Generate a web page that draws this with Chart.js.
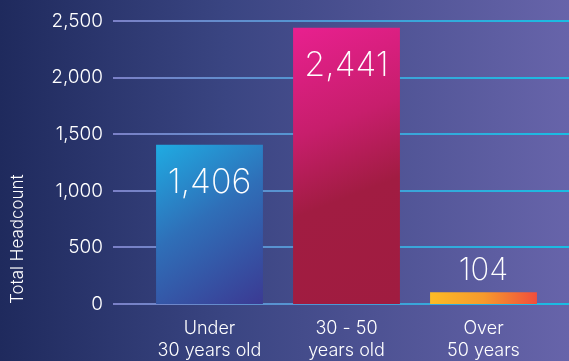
<!DOCTYPE html>
<html>
<head>
<meta charset="utf-8">
<script src="https://cdn.jsdelivr.net/npm/chart.js@4"></script>
<style>
  html, body { margin: 0; padding: 0; }
  body {
    width: 569px; height: 361px; overflow: hidden;
    background: linear-gradient(90deg, #1f2a5d 0%, #3a4582 40%, #6764aa 100%);
  }
  #wrap { position: relative; width: 569px; height: 361px; }
</style>
</head>
<body>
<div id="wrap"><canvas id="headcountChart"></canvas></div>
<script>
// --- Data ---
const ageGroups = [['Under', '30 years old'], ['30 - 50', 'years old'], ['Over', '50 years']];
const headcounts = [1406, 2441, 104];
const valueLabels = ['1,406', '2,441', '104'];

const FONT = "'Inter', 'Open Sans', sans-serif";
const BAR_PCT = 0.78;

// bar fills per category, built from the scales
function barFill(context) {
  const chart = context.chart;
  const xs = chart.scales.x, ys = chart.scales.y;
  const fallback = ['#2a7cc4', '#c51e6a', '#f7942e'][context.dataIndex];
  if (!xs || !ys || !chart.chartArea) return fallback;
  const i = context.dataIndex;
  const cx = xs.getPixelForValue(i);
  const half = (xs.width / ageGroups.length) * BAR_PCT / 2;
  const top = ys.getPixelForValue(headcounts[i]);
  const bottom = ys.getPixelForValue(0);
  if (![cx, half, top, bottom].every(Number.isFinite)) return fallback;
  const left = cx - half, right = cx + half;
  const ctx = chart.ctx;
  let g;
  if (i === 0) {
    g = ctx.createLinearGradient(left, top, right, bottom);
    g.addColorStop(0, '#1fabe2');
    g.addColorStop(0.45, '#2f6fb8');
    g.addColorStop(1, '#3b3a93');
  } else if (i === 1) {
    g = ctx.createLinearGradient(left, top, right, bottom);
    g.addColorStop(0, '#e8208f');
    g.addColorStop(0.35, '#c71e6c');
    g.addColorStop(0.6, '#a11c42');
    g.addColorStop(1, '#a01c40');
  } else {
    g = ctx.createLinearGradient(left, 0, right, 0);
    g.addColorStop(0, '#fcbb25');
    g.addColorStop(0.5, '#f79a2c');
    g.addColorStop(1, '#f04e3c');
  }
  return g;
}

// grid lines across the full width, behind the bars
const fullGrid = {
  id: 'fullGrid',
  beforeDatasetsDraw(chart) {
    const ctx = chart.ctx;
    const y = chart.scales.y;
    const g = ctx.createLinearGradient(113, 0, chart.width, 0);
    g.addColorStop(0, '#7b80c6');
    g.addColorStop(0.45, '#4f97d3');
    g.addColorStop(1, '#18bde3');
    ctx.save();
    ctx.strokeStyle = g;
    ctx.lineWidth = 2;
    y.ticks.forEach(t => {
      const py = Math.round(y.getPixelForValue(t.value));
      ctx.beginPath();
      ctx.moveTo(113, py);
      ctx.lineTo(chart.width, py);
      ctx.stroke();
    });
    ctx.restore();
  }
};

// value labels
const valueText = {
  id: 'valueText',
  afterDatasetsDraw(chart) {
    const ctx = chart.ctx;
    const meta = chart.getDatasetMeta(0);
    ctx.save();
    ctx.fillStyle = '#ffffff';
    ctx.textAlign = 'center';
    ctx.textBaseline = 'middle';
    meta.data.forEach((bar, i) => {
      if (i < 2) {
        ctx.font = '200 34px ' + FONT;
        ctx.fillText(valueLabels[i], bar.x, bar.y + 38);
      } else {
        ctx.font = '200 31px ' + FONT;
        ctx.fillText(valueLabels[i], bar.x, bar.y - 22);
      }
    });
    ctx.restore();
  }
};

new Chart(document.getElementById('headcountChart'), {
  type: 'bar',
  data: {
    labels: ageGroups,
    datasets: [{
      data: headcounts,
      backgroundColor: barFill,
      borderWidth: 0,
      barPercentage: BAR_PCT,
      categoryPercentage: 1
    }]
  },
  options: {
    responsive: true,
    maintainAspectRatio: false,
    animation: false,
    layout: { padding: { top: 21, right: 17, left: 0, bottom: 0 } },
    plugins: { legend: { display: false }, tooltip: { enabled: false } },
    scales: {
      y: {
        min: 0,
        max: 2500,
        border: { display: false },
        grid: { display: false },
        ticks: {
          stepSize: 500,
          color: '#ffffff',
          padding: 30,
          font: { family: FONT, size: 19, weight: '300' },
          callback: v => v.toLocaleString('en-US')
        },
        title: {
          display: true,
          text: 'Total Headcount',
          align: 'start',
          color: '#ffffff',
          font: { family: FONT, size: 17, weight: '300' },
          padding: { top: 8, bottom: 0 }
        },
        afterFit: s => { s.width = 141; s.paddingTop = 0; s.paddingBottom = 0; }
      },
      x: {
        border: { display: false },
        grid: { display: false },
        ticks: {
          color: '#ffffff',
          padding: 6,
          font: { family: FONT, size: 18, weight: '300', lineHeight: 1.2 }
        },
        afterFit: s => { s.height = 57; }
      }
    }
  },
  plugins: [fullGrid, valueText]
});
</script>
</body>
</html>
